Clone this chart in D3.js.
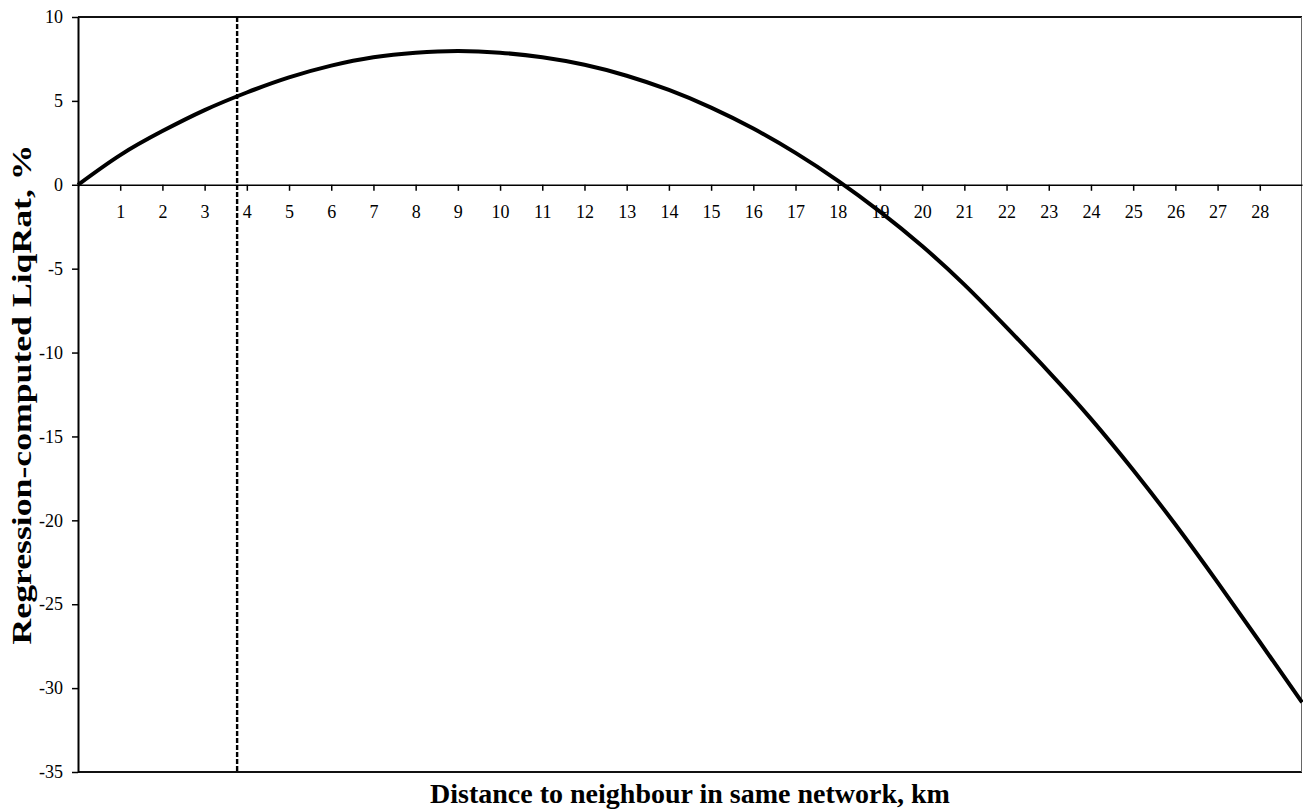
<!DOCTYPE html>
<html>
<head>
<meta charset="utf-8">
<script src="https://cdn.jsdelivr.net/npm/d3@7"></script>
<style>
  body { margin: 0; background: #fff; }
  svg { font-family: "Liberation Serif", "Times New Roman", serif; }
</style>
</head>
<body>
<div id="chart"></div>
<script>
// distance to neighbour (km) and regression-computed LiqRat (%)
const distances = [0, 1, 2, 3, 4, 5, 6, 7, 8, 9, 10, 11, 12, 13, 14, 15, 16, 17, 18, 19, 20, 21, 22, 23, 24, 25, 26, 27, 28, 29];
const liqRat = [0, 1.77, 3.2, 4.45, 5.5, 6.4, 7.1, 7.6, 7.87, 7.97, 7.87, 7.6, 7.15, 6.5, 5.65, 4.6, 3.35, 1.9, 0.25, -1.6,
                -3.65, -5.95, -8.5, -11.15, -13.95, -17.0, -20.25, -23.7, -27.25, -30.85];
const xTicks = d3.range(1, 29);
const yTicks = [10, 5, 0, -5, -10, -15, -20, -25, -30, -35];
const cutoffDistance = 3.77;

const width = 1303, height = 812;
const marginLeft = 78, marginRight = 1, marginTop = 17, marginBottom = 40;

const x = d3.scaleLinear()
    .domain([0, 29])
    .range([marginLeft, width - marginRight]);
const y = d3.scaleLinear()
    .domain([-35, 10])
    .range([height - marginBottom, marginTop]);

const svg = d3.select("#chart").append("svg")
    .attr("width", width)
    .attr("height", height)
    .attr("viewBox", [0, 0, width, height]);

// plot frame: dark top/bottom, thin grey right side
svg.append("line")
    .attr("x1", x(0)).attr("x2", x(29))
    .attr("y1", y(10)).attr("y2", y(10))
    .attr("stroke", "#111").attr("stroke-width", 2);
svg.append("line")
    .attr("x1", x(0)).attr("x2", x(29))
    .attr("y1", y(-35)).attr("y2", y(-35))
    .attr("stroke", "#111").attr("stroke-width", 2);
svg.append("line")
    .attr("x1", x(29) - 0.5).attr("x2", x(29) - 0.5)
    .attr("y1", y(10)).attr("y2", y(-35))
    .attr("stroke", "#666").attr("stroke-width", 1);

// y axis on the left
svg.append("g")
    .attr("transform", `translate(${marginLeft},0)`)
    .call(d3.axisLeft(y).tickValues(yTicks).tickSize(6).tickPadding(9).tickSizeOuter(0).tickFormat(d => String(d)))
    .call(g => g.select(".domain").attr("stroke", "#000").attr("stroke-width", 2))
    .call(g => g.selectAll(".tick line").attr("stroke", "#000").attr("stroke-width", 1.5))
    .call(g => g.selectAll(".tick text")
        .attr("fill", "#000")
        .style("font-size", "18px")
        .style("font-family", "'Liberation Serif', serif"));

// x axis crossing at zero
svg.append("g")
    .attr("transform", `translate(0,${y(0)})`)
    .call(d3.axisBottom(x).tickValues(xTicks).tickSize(6).tickPadding(14).tickSizeOuter(0))
    .call(g => g.select(".domain").attr("stroke", "#000").attr("stroke-width", 1.5))
    .call(g => g.selectAll(".tick line").attr("stroke", "#000").attr("stroke-width", 1.5))
    .call(g => g.selectAll(".tick text")
        .attr("fill", "#000")
        .style("font-size", "18px")
        .style("font-family", "'Liberation Serif', serif"));

// dashed cutoff line
svg.append("line")
    .attr("x1", x(cutoffDistance))
    .attr("x2", x(cutoffDistance))
    .attr("y1", y(10))
    .attr("y2", y(-35))
    .attr("stroke", "#000")
    .attr("stroke-width", 2.4)
    .attr("stroke-dasharray", "5,2");

// regression curve
const line = d3.line()
    .x((d, i) => x(distances[i]))
    .y(d => y(d))
    .curve(d3.curveNatural);

svg.append("path")
    .datum(liqRat)
    .attr("fill", "none")
    .attr("stroke", "#000")
    .attr("stroke-width", 4)
    .attr("stroke-linejoin", "round")
    .attr("d", line);

// axis titles
svg.append("text")
    .attr("x", (x(0) + x(29)) / 2)
    .attr("y", 803)
    .attr("text-anchor", "middle")
    .style("font-size", "28px")
    .style("font-weight", "bold")
    .text("Distance to neighbour in same network, km");

svg.append("text")
    .attr("transform", `translate(31,${(y(10) + y(-35)) / 2}) rotate(-90)`)
    .attr("text-anchor", "middle")
    .attr("textLength", 500)
    .attr("lengthAdjust", "spacingAndGlyphs")
    .style("font-size", "27px")
    .style("font-weight", "bold")
    .text("Regression-computed LiqRat, %");
</script>
</body>
</html>
